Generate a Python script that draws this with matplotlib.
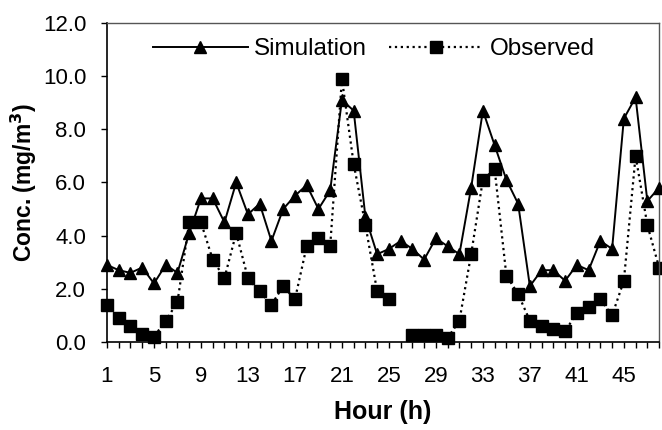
import matplotlib
matplotlib.use("Agg")
import matplotlib.pyplot as plt
import numpy as np

plt.rcParams['font.family'] = ['Liberation Sans', 'DejaVu Sans']

hours = list(range(1, 49))

simulation = [2.9, 2.7, 2.6, 2.8, 2.2, 2.9, 2.6, 4.1, 5.4, 5.4,
              4.5, 6.0, 4.8, 5.2, 3.8, 5.0, 5.5, 5.9, 5.0, 5.7,
              9.1, 8.7, 4.7, 3.3, 3.5, 3.8, 3.5, 3.1, 3.9, 3.6,
              3.3, 5.8, 8.7, 7.4, 6.1, 5.2, 2.1, 2.7, 2.7, 2.3,
              2.9, 2.7, 3.8, 3.5, 8.4, 9.2, 5.3, 5.8]

observed = [1.4, 0.9, 0.6, 0.3, 0.2, 0.8, 1.5, 4.5, 4.5, 3.1,
            2.4, 4.1, 2.4, 1.9, 1.4, 2.1, 1.6, 3.6, 3.9, 3.6,
            9.9, 6.7, 4.4, 1.9, 1.6, np.nan, 0.25, 0.25, 0.25, 0.15,
            0.8, 3.3, 6.1, 6.5, 2.5, 1.8, 0.8, 0.6, 0.5, 0.4,
            1.1, 1.3, 1.6, 1.0, 2.3, 7.0, 4.4, 2.8]

x_ticks = list(range(1, 48, 4))
y_ticks = [0, 2, 4, 6, 8, 10, 12]

fig = plt.figure(figsize=(6.62, 4.30), dpi=100)
ax = fig.add_axes([0.1616, 0.2047, 0.834, 0.742])

ax.plot(hours, simulation, color='black', linestyle='-', linewidth=1.4,
        marker='^', markersize=9, label='Simulation', clip_on=False, zorder=3)
ax.plot(hours, observed, color='black', linestyle=':', linewidth=1.6,
        marker='s', markersize=8.5, label='Observed', clip_on=False, zorder=2)

ax.set_xlim(1, 48)
ax.set_ylim(0, 12)
ax.set_xticks(x_ticks)
ax.set_xticks(hours, minor=True)
ax.set_yticks(y_ticks)
ax.set_yticklabels([f"{v:.1f}" for v in y_ticks])
ax.tick_params(axis='both', which='major', labelsize=16, direction='out', length=4, width=1)
ax.tick_params(axis='x', which='minor', direction='out', length=4, width=1)
ax.tick_params(axis='x', pad=13)
ax.tick_params(axis='y', pad=11)

for side in ['top', 'right']:
    ax.spines[side].set_color('#555555')
    ax.spines[side].set_linewidth(1.0)
for side in ['left', 'bottom']:
    ax.spines[side].set_linewidth(1.2)

ax.set_xlabel('Hour (h)', fontsize=18, fontweight='bold', labelpad=10)
ax.set_ylabel('Conc. (mg/m$^\\mathbf{3}$)', fontsize=16.5, fontweight='bold', labelpad=3)

ax.legend(loc='upper left', bbox_to_anchor=(0.083, 0.952), ncol=2, frameon=False,
          fontsize=17.5, handlelength=3.9, columnspacing=0.9, handletextpad=0.25,
          borderaxespad=0, borderpad=0)

fig.savefig('out.png', dpi=100)
